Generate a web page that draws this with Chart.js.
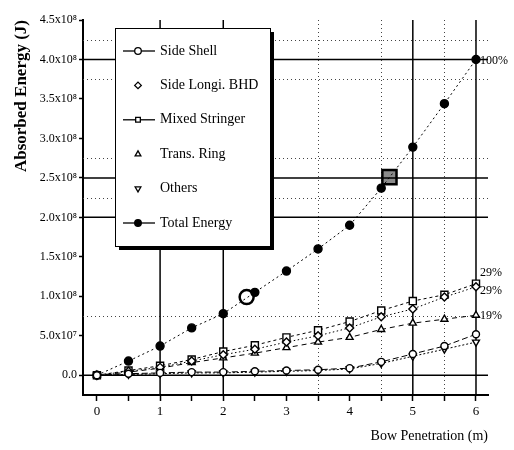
<!DOCTYPE html>
<html>
<head>
<meta charset="utf-8">
<script src="https://cdn.jsdelivr.net/npm/chart.js@4/dist/chart.umd.min.js"></script>
<style>
  html, body { margin: 0; padding: 0; background: #fff; }
</style>
</head>
<body>
<canvas id="chart" width="514" height="450"></canvas>
<script>
// 侵入量 (m)
const penetration = [0, 0.5, 1, 1.5, 2, 2.5, 3, 3.5, 4, 4.5, 5, 5.5, 6];

// 各部材の吸収エネルギー (J)
const sideShell     = [0, 0.02e8, 0.03e8, 0.04e8, 0.04e8, 0.05e8, 0.06e8, 0.07e8, 0.09e8, 0.17e8, 0.27e8, 0.37e8, 0.52e8];
const sideLongiBhd  = [0, 0.05e8, 0.10e8, 0.18e8, 0.26e8, 0.33e8, 0.42e8, 0.50e8, 0.60e8, 0.74e8, 0.84e8, 0.99e8, 1.12e8];
const mixedStringer = [0, 0.06e8, 0.12e8, 0.20e8, 0.30e8, 0.38e8, 0.48e8, 0.57e8, 0.68e8, 0.82e8, 0.94e8, 1.02e8, 1.16e8];
const transRing     = [0, 0.04e8, 0.09e8, 0.16e8, 0.22e8, 0.28e8, 0.35e8, 0.42e8, 0.48e8, 0.58e8, 0.66e8, 0.71e8, 0.76e8];
const others        = [0, 0.01e8, 0.02e8, 0.03e8, 0.03e8, 0.04e8, 0.05e8, 0.06e8, 0.08e8, 0.15e8, 0.24e8, 0.33e8, 0.42e8];
const totalEnergy   = [0, 0.18e8, 0.37e8, 0.60e8, 0.78e8, 1.05e8, 1.32e8, 1.60e8, 1.90e8, 2.37e8, 2.89e8, 3.44e8, 4.00e8];

const seriesNames = ['Side Shell', 'Side Longi. BHD', 'Mixed Stringer', 'Trans. Ring', 'Others', 'Total Energy'];

// 図中の強調マーカー (丸・四角)
const markX = [2.37, 4.63];
const markY = [0.99e8, 2.51e8];

// 右端の割合ラベル
const pctLabels = ['29%', '29%', '19%', '100%'];
const pctSeries = [2, 1, 3, 5];

// 目盛
const xTickValues = [0, 0.5, 1, 1.5, 2, 2.5, 3, 3.5, 4, 4.5, 5, 5.5, 6];
const yTickValues = [0, 0.5e8, 1.0e8, 1.5e8, 2.0e8, 2.5e8, 3.0e8, 3.5e8, 4.0e8, 4.5e8];
const yTickLabels = ['0.0', '5.0x10⁷', '1.0x10⁸', '1.5x10⁸', '2.0x10⁸', '2.5x10⁸', '3.0x10⁸', '3.5x10⁸', '4.0x10⁸', '4.5x10⁸'];

// 格子線 (実線 / 点線)
const solidX = [1, 2, 5, 6];
const dottedX = [3.5, 4.5, 5.5];
const solidY = [0, 2.0e8, 2.5e8, 4.0e8];
const dottedY = [0.75e8, 2.25e8, 2.75e8, 3.75e8, 4.25e8];

const serif = '"Liberation Serif", "Times New Roman", serif';
Chart.defaults.font.family = serif;
Chart.defaults.color = '#000';

function toPoints(values) {
    return penetration.map((x, i) => ({ x: x, y: values[i] }));
}

function series(label, values, style, rotation, dash, radius) {
    return {
        label: label,
        data: toPoints(values),
        borderColor: '#000',
        backgroundColor: '#fff',
        borderWidth: 1,
        borderDash: dash,
        pointStyle: style,
        pointRotation: rotation,
        pointRadius: radius,
        pointBorderWidth: 1.4,
        pointBorderColor: '#000',
        pointBackgroundColor: '#fff',
        tension: 0
    };
}

const datasets = [
    series(seriesNames[0], sideShell, 'circle', 0, [6, 3], 3.5),
    series(seriesNames[1], sideLongiBhd, 'rectRot', 0, [1.5, 2.5], 4),
    series(seriesNames[2], mixedStringer, 'rect', 0, [3, 3], 5),
    series(seriesNames[3], transRing, 'triangle', 0, [5, 4], 4),
    series(seriesNames[4], others, 'triangle', 180, [2, 2], 4),
    series(seriesNames[5], totalEnergy, 'circle', 0, [2, 3], 4)
];
datasets[5].pointBackgroundColor = '#000';

// 強調マーカー
datasets.push({
    label: 'mark circle',
    data: [{ x: markX[0], y: markY[0] }],
    showLine: false,
    pointStyle: 'circle',
    pointRadius: 7,
    pointBorderWidth: 2.5,
    pointBorderColor: '#000',
    pointBackgroundColor: 'rgba(255,255,255,0.6)'
});
datasets.push({
    label: 'mark square',
    data: [{ x: markX[1], y: markY[1] }],
    showLine: false,
    pointStyle: 'rect',
    pointRadius: 10,
    pointBorderWidth: 2.5,
    pointBorderColor: '#000',
    pointBackgroundColor: 'rgba(0,0,0,0.45)'
});

// 格子線を描く
const gridLines = {
    id: 'gridLines',
    beforeDatasetsDraw(chart) {
        const { ctx, chartArea, scales } = chart;
        ctx.save();
        const line = (x1, y1, x2, y2) => {
            ctx.beginPath();
            ctx.moveTo(x1, y1);
            ctx.lineTo(x2, y2);
            ctx.stroke();
        };
        ctx.lineWidth = 1;
        ctx.setLineDash([1, 3]);
        ctx.strokeStyle = '#444';
        dottedX.forEach(v => {
            const px = Math.round(scales.x.getPixelForValue(v)) + 0.5;
            line(px, chartArea.top, px, chartArea.bottom);
        });
        dottedY.forEach(v => {
            const py = Math.round(scales.y.getPixelForValue(v)) + 0.5;
            line(chartArea.left, py, chartArea.right, py);
        });
        ctx.setLineDash([]);
        ctx.strokeStyle = '#000';
        ctx.lineWidth = 1.5;
        solidX.forEach(v => {
            const px = scales.x.getPixelForValue(v);
            line(px, chartArea.top, px, chartArea.bottom);
        });
        solidY.forEach(v => {
            const py = scales.y.getPixelForValue(v);
            line(chartArea.left, py, chartArea.right, py);
        });
        ctx.restore();
    }
};

function drawMarker(ctx, style, rotation, radius, x, y) {
    if (Chart.helpers && Chart.helpers.drawPoint) {
        Chart.helpers.drawPoint(ctx, { pointStyle: style, rotation: rotation, radius: radius, borderWidth: 1.2 }, x, y);
    } else {
        ctx.beginPath();
        ctx.arc(x, y, radius, 0, Math.PI * 2);
        ctx.fill();
        ctx.stroke();
    }
}

// 凡例 (グラフ内の枠)
const legendBox = {
    id: 'legendBox',
    afterDraw(chart) {
        const ctx = chart.ctx;
        const x0 = 115, y0 = 28, w = 155, h = 218;
        ctx.save();
        ctx.fillStyle = '#000';
        ctx.fillRect(x0 + 4, y0 + 4, w, h);
        ctx.fillStyle = '#fff';
        ctx.fillRect(x0, y0, w, h);
        ctx.strokeStyle = '#000';
        ctx.lineWidth = 1;
        ctx.strokeRect(x0 + 0.5, y0 + 0.5, w, h);

        const withLine = [true, false, true, false, false, true];
        for (let i = 0; i < 6; i++) {
            const ds = chart.data.datasets[i];
            const y = y0 + 23 + i * 34.4;
            const mx = x0 + 23;
            if (withLine[i]) {
                ctx.setLineDash([]);
                ctx.lineWidth = 1.3;
                ctx.beginPath();
                ctx.moveTo(x0 + 8, y);
                ctx.lineTo(x0 + 40, y);
                ctx.stroke();
            }
            ctx.fillStyle = ds.pointBackgroundColor;
            ctx.strokeStyle = '#000';
            drawMarker(ctx, ds.pointStyle, ds.pointRotation, 3.3, mx, y);
            ctx.fillStyle = '#000';
            ctx.font = '14px ' + serif;
            ctx.textAlign = 'left';
            ctx.textBaseline = 'middle';
            ctx.fillText(ds.label, x0 + 45, y);
        }

        // 割合ラベル
        const dy = [-11, 4, 1, 1];
        ctx.font = '12px ' + serif;
        pctSeries.forEach((idx, k) => {
            const meta = chart.getDatasetMeta(idx);
            const pt = meta.data[meta.data.length - 1];
            ctx.fillText(pctLabels[k], pt.x + 4, pt.y + dy[k]);
        });
        ctx.restore();
    }
};

new Chart(document.getElementById('chart'), {
    type: 'line',
    data: { datasets: datasets },
    options: {
        responsive: false,
        animation: false,
        devicePixelRatio: 1,
        layout: { padding: { top: 20, right: 26, left: 0, bottom: 0 } },
        plugins: {
            legend: { display: false },
            tooltip: { enabled: false }
        },
        scales: {
            x: {
                type: 'linear',
                min: -0.22,
                max: 6.19,
                afterBuildTicks: s => { s.ticks = xTickValues.map(v => ({ value: v })); },
                ticks: {
                    autoSkip: false,
                    maxRotation: 0,
                    padding: 3,
                    color: '#000',
                    font: { size: 13 },
                    callback: v => Number.isInteger(v) ? String(v) : ''
                },
                grid: { drawOnChartArea: false, tickLength: 6, color: '#000', tickWidth: 1.5 },
                border: { color: '#000', width: 2 },
                title: {
                    display: true,
                    text: 'Bow Penetration (m)',
                    align: 'end',
                    color: '#000',
                    font: { size: 14 },
                    padding: { top: 0, bottom: 5 }
                },
                afterFit: s => { s.height = 55; }
            },
            y: {
                min: -0.25e8,
                max: 4.5e8,
                afterBuildTicks: s => { s.ticks = yTickValues.map(v => ({ value: v })); },
                ticks: {
                    autoSkip: false,
                    padding: 2,
                    color: '#000',
                    font: { size: 12 },
                    callback: (v, i) => yTickLabels[i]
                },
                grid: { drawOnChartArea: false, tickLength: 4, color: '#000', tickWidth: 1.5 },
                border: { color: '#000', width: 2 },
                title: {
                    display: true,
                    text: 'Absorbed Energy (J)',
                    align: 'end',
                    color: '#000',
                    font: { size: 17, weight: 'bold' },
                    padding: { top: 11, bottom: 0 }
                },
                afterFit: s => { s.width = 83; }
            }
        }
    },
    plugins: [gridLines, legendBox]
});
</script>
</body>
</html>
